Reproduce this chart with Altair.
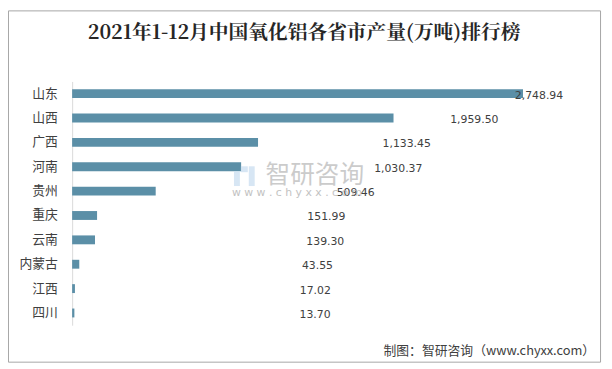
import altair as alt
import pandas as pd

provinces = ["山东", "山西", "广西", "河南", "贵州", "重庆", "云南", "内蒙古", "江西", "四川"]
output = [2748.94, 1959.50, 1133.45, 1030.37, 509.46, 151.99, 139.30, 43.55, 17.02, 13.70]
title_text = "2021年1-12月中国氧化铝各省市产量(万吨)排行榜"
source_text = "制图：智研咨询（www.chyxx.com）"
wm_name = "智研咨询"
wm_url = "w w w . c h y x x . c o m"

df = pd.DataFrame({"省市": provinces, "产量": output})
one = pd.DataFrame({"k": [0]})

W, H = 487, 247

y_enc = alt.Y(
    "省市:N", sort=provinces,
    scale=alt.Scale(paddingInner=0, paddingOuter=0),
    axis=alt.Axis(title=None, ticks=False, domainColor="#d9d9d9", domainWidth=1,
                  labelFont="Noto Sans CJK SC", labelFontSize=13, labelColor="#404040",
                  labelPadding=15, grid=False),
)

bars = alt.Chart(df).mark_bar(size=9, color="#5B8FA7").encode(
    x=alt.X("产量:Q", scale=alt.Scale(domain=[0, 2930], nice=False, zero=True), axis=None),
    y=y_enc,
)

labels = alt.Chart(df).mark_text(font="DejaVu Sans", fontSize=11, color="#404040", dy=2).encode(
    x=alt.X("产量:Q", scale=alt.Scale(domain=[-2952, 2916], nice=False, zero=False), axis=None),
    y=alt.Y("省市:N", sort=provinces),
    text=alt.Text("产量:Q", format=",.2f"),
)

title = alt.Chart(one).mark_text(
    font="Noto Serif CJK SC", fontSize=20, fontWeight="bold", color="#262626",
    align="center", baseline="middle",
).encode(x=alt.value(235), y=alt.value(-49), text=alt.value(title_text))

footer = alt.Chart(one).mark_text(
    font="Noto Sans CJK SC", fontSize=13, color="#404040", align="right", baseline="middle",
).encode(x=alt.value(530), y=alt.value(273), text=alt.value(source_text))

wm1 = alt.Chart(one).mark_text(
    font="Noto Sans CJK SC", fontSize=25, color="#bfbfbf", opacity=0.8, align="left", baseline="middle",
).encode(x=alt.value(196), y=alt.value(95), text=alt.value(wm_name))

wm2 = alt.Chart(one).mark_text(
    font="DejaVu Sans", fontSize=11, color="#b3b3b3", opacity=0.8, align="left", baseline="middle",
).encode(x=alt.value(162), y=alt.value(113), text=alt.value(wm_url))

logo_a = alt.Chart(one).mark_rect(color="#c9def0", opacity=0.75).encode(
    x=alt.value(164), x2=alt.value(170), y=alt.value(91), y2=alt.value(106))
logo_b = alt.Chart(one).mark_rect(color="#c9def0", opacity=0.75).encode(
    x=alt.value(171), x2=alt.value(178), y=alt.value(86), y2=alt.value(92))
logo_c = alt.Chart(one).mark_rect(color="#c9def0", opacity=0.75).encode(
    x=alt.value(179), x2=alt.value(185), y=alt.value(86), y2=alt.value(106))

border = alt.Chart(one).mark_rect(fill="transparent", stroke="#a6a6a6", strokeWidth=1).encode(
    x=alt.value(-64.5), x2=alt.value(535.5), y=alt.value(-71.5), y2=alt.value(284.5))

chart = alt.layer(bars, labels, title, footer, logo_a, logo_b, logo_c, wm1, wm2, border).resolve_scale(
    x="independent"
).properties(
    width=W, height=H,
    padding={"left": 65, "top": 72, "right": 52, "bottom": 42},
    autosize=alt.AutoSizeParams(type="none"),
).configure_view(strokeWidth=0)

chart.save("out.html", embed_options={"renderer": "svg", "actions": False})
